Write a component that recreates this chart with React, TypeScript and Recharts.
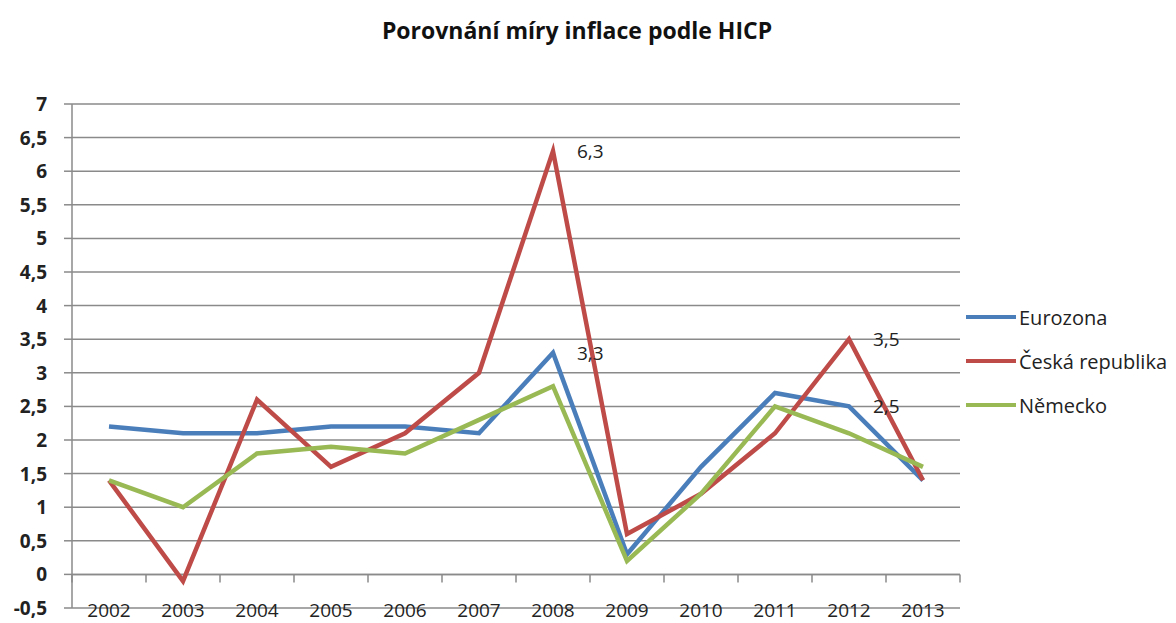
import { LineChart, Line, XAxis, YAxis, CartesianGrid, Legend, ReferenceLine, LabelList } from 'recharts';

const years = ['2002', '2003', '2004', '2005', '2006', '2007', '2008', '2009', '2010', '2011', '2012', '2013'];
const eurozona = [2.2, 2.1, 2.1, 2.2, 2.2, 2.1, 3.3, 0.3, 1.6, 2.7, 2.5, 1.4];
const ceskaRepublika = [1.4, -0.1, 2.6, 1.6, 2.1, 3.0, 6.3, 0.6, 1.2, 2.1, 3.5, 1.4];
const nemecko = [1.4, 1.0, 1.8, 1.9, 1.8, 2.3, 2.8, 0.2, 1.2, 2.5, 2.1, 1.6];
const yTicks = [-0.5, 0, 0.5, 1, 1.5, 2, 2.5, 3, 3.5, 4, 4.5, 5, 5.5, 6, 6.5, 7];
// years that get a data label, per series
const euroLabelYears = ['2008', '2012'];
const czLabelYears = ['2008', '2012'];

const data = years.map((year, i) => ({
  year,
  euro: eurozona[i],
  cz: ceskaRepublika[i],
  de: nemecko[i],
}));

const W = 1176;
const H = 623;
const M = { top: 104, right: 216, left: 10, bottom: 0 };
const Y_AXIS_W = 62;
const X_AXIS_H = 15;
const PLOT_W = W - M.left - M.right - Y_AXIS_W;
const PLOT_H = H - M.top - M.bottom - X_AXIS_H;
const BAND = PLOT_W / years.length;
const Y_MIN = -0.5;
const Y_MAX = 7;

const BLUE = '#4a7ebb';
const RED = '#be4b48';
const GREEN = '#98b954';
const GRID = '#8a8a8a';
const FONT = '"Open Sans", sans-serif';

const fmt = (v: number) => String(v).replace('.', ',');

const XTick = (props: any) => {
  const { x, y, payload, index } = props;
  const zeroY = y - (PLOT_H * (0 - Y_MIN)) / (Y_MAX - Y_MIN);
  return (
    <g>
      {index === 0 && (
        <line x1={x - BAND / 2} x2={x - BAND / 2} y1={zeroY} y2={zeroY + 8} stroke={GRID} strokeWidth={1.5} />
      )}
      <line x1={x + BAND / 2} x2={x + BAND / 2} y1={zeroY} y2={zeroY + 8} stroke={GRID} strokeWidth={1.5} />
      <text x={x} y={y + 9} textAnchor="middle" fontSize={19} fontFamily={FONT} fill="#222">
        {payload.value}
      </text>
    </g>
  );
};

const YTick = (props: any) => {
  const { x, y, payload } = props;
  return (
    <text x={x} y={y} dy={7} textAnchor="end" fontSize={19} fontWeight={700} fontFamily={FONT} fill="#222">
      {fmt(payload.value)}
    </text>
  );
};

const makeLabel = (labelYears: string[]) => (props: any) => {
  const { x, y, value, index } = props;
  if (!labelYears.includes(years[index])) return null;
  return (
    <text x={x + 24} y={y} dy={7} fontSize={19} fontFamily={FONT} fill="#222">
      {fmt(value)}
    </text>
  );
};

const legendItems = [
  { name: 'Eurozona', color: BLUE },
  { name: 'Česká republika', color: RED },
  { name: 'Německo', color: GREEN },
];

const LegendBox = () => (
  <div style={{ fontFamily: FONT, fontSize: 20, color: '#222' }}>
    {legendItems.map((it) => (
      <div key={it.name} style={{ display: 'flex', alignItems: 'center', height: 44, whiteSpace: 'nowrap' }}>
        <svg width={50} height={10} style={{ marginRight: 3 }}>
          <line x1={0} x2={50} y1={5} y2={5} stroke={it.color} strokeWidth={4} />
        </svg>
        <span>{it.name}</span>
      </div>
    ))}
  </div>
);

export default function App() {
  return (
    <div style={{ position: 'absolute', left: 0, top: 0, width: W, height: H, background: '#fff' }}>
      <div
        style={{
          position: 'absolute',
          top: 14,
          left: 0,
          width: W - 22,
          textAlign: 'center',
          fontFamily: FONT,
          fontWeight: 700,
          fontSize: 23,
          color: '#111',
        }}
      >
        Porovnání míry inflace podle HICP
      </div>
      <LineChart width={W} height={H} data={data} margin={M}>
        <CartesianGrid vertical={false} stroke={GRID} strokeWidth={1.5} />
        <XAxis
          dataKey="year"
          height={X_AXIS_H}
          axisLine={false}
          tickLine={false}
          tickSize={0}
          tickMargin={0}
          interval={0}
          padding={{ left: BAND / 2, right: BAND / 2 }}
          tick={<XTick />}
        />
        <YAxis
          width={Y_AXIS_W}
          domain={[Y_MIN, Y_MAX]}
          ticks={yTicks}
          interval={0}
          axisLine={{ stroke: GRID, strokeWidth: 1.5 }}
          tickLine={{ stroke: GRID, strokeWidth: 1.5 }}
          tickSize={8}
          tickMargin={17}
          tick={<YTick />}
        />
        <ReferenceLine y={0} stroke={GRID} strokeWidth={1.5} />
        <Legend
          layout="vertical"
          align="center"
          verticalAlign="middle"
          content={<LegendBox />}
          wrapperStyle={{ position: 'absolute', left: 966, top: 295, width: 210 }}
        />
        <Line type="linear" dataKey="euro" name="Eurozona" stroke={BLUE} strokeWidth={4.5} dot={false} isAnimationActive={false}>
          <LabelList dataKey="euro" content={makeLabel(euroLabelYears)} />
        </Line>
        <Line type="linear" dataKey="cz" name="Česká republika" stroke={RED} strokeWidth={4.5} dot={false} isAnimationActive={false}>
          <LabelList dataKey="cz" content={makeLabel(czLabelYears)} />
        </Line>
        <Line type="linear" dataKey="de" name="Německo" stroke={GREEN} strokeWidth={4.5} dot={false} isAnimationActive={false} />
      </LineChart>
    </div>
  );
}
